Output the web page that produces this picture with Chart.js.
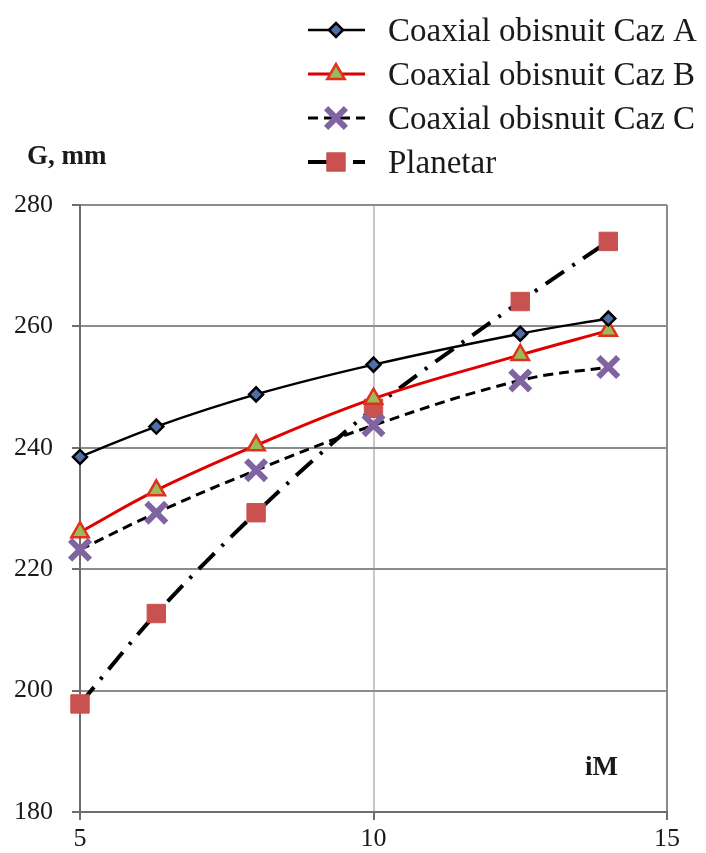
<!DOCTYPE html>
<html>
<head>
<meta charset="utf-8">
<script src="https://cdn.jsdelivr.net/npm/chart.js"></script>
<style>
  html, body { margin: 0; padding: 0; background: #fff; }
  #wrap { width: 706px; height: 853px; }
</style>
</head>
<body>
<div id="wrap"><canvas id="chart"></canvas></div>
<script>
// values
const iM = [5, 6.3, 8, 10, 12.5, 14];
const cazA = [238.5, 243.5, 248.8, 253.7, 258.8, 261.3];
const cazB = [226.1, 233.0, 240.4, 248.1, 255.3, 259.3];
const cazC = [223.2, 229.3, 236.3, 243.7, 251.1, 253.3];
const planetar = [197.8, 212.7, 229.3, 246.5, 264.1, 274.0];
const seriesNames = ['Coaxial obisnuit Caz A', 'Coaxial obisnuit Caz B', 'Coaxial obisnuit Caz C', 'Planetar'];
const xTicks = [5, 10, 15];
const yTicks = [180, 200, 220, 240, 260, 280];
const yTitle = 'G, mm';
const xTitle = 'iM';

const serif = '"Liberation Serif", "Times New Roman", serif';
Chart.defaults.font.family = serif;
Chart.defaults.color = '#1a1a1a';

function pts(ys) {
  return iM.map((x, i) => ({ x: x, y: ys[i] }));
}

// legend + free axis titles drawn on the canvas
const extras = {
  id: 'extras',
  afterDraw(chart) {
    const ctx = chart.ctx;
    ctx.save();
    const rows = [30, 74, 118, 162];
    chart.data.datasets.forEach((ds, i) => {
      const y = rows[i];
      ctx.strokeStyle = ds.borderColor;
      ctx.lineWidth = ds.borderWidth;
      ctx.setLineDash(ds.borderDash || []);
      ctx.beginPath();
      ctx.moveTo(308, y);
      ctx.lineTo(365, y);
      ctx.stroke();
      ctx.setLineDash([]);
      ctx.fillStyle = ds.pointBackgroundColor;
      ctx.strokeStyle = ds.pointBorderColor;
      ctx.lineWidth = ds.pointBorderWidth;
      Chart.helpers.drawPoint(ctx, {
        pointStyle: ds.pointStyle,
        radius: ds.pointRadius,
        rotation: 0,
        borderWidth: ds.pointBorderWidth
      }, 336, y);
      ctx.fillStyle = '#1a1a1a';
      ctx.font = '33px ' + serif;
      ctx.textBaseline = 'middle';
      ctx.textAlign = 'left';
      ctx.fillText(ds.label, 388, y + 2);
    });
    ctx.font = 'bold 27px ' + serif;
    ctx.textBaseline = 'middle';
    ctx.fillText(yTitle, 27, 157);
    ctx.fillText(xTitle, 585, 768);
    ctx.restore();
  }
};

new Chart('chart', {
  type: 'line',
  data: {
    datasets: [
      {
        label: seriesNames[0],
        data: pts(cazA),
        borderColor: '#000000',
        borderWidth: 2.5,
        tension: 0.4,
        clip: false,
        pointStyle: 'rectRot',
        pointRadius: 7,
        pointBackgroundColor: '#4f6fa8',
        pointBorderColor: '#000000',
        pointBorderWidth: 2.5
      },
      {
        label: seriesNames[1],
        data: pts(cazB),
        borderColor: '#e00000',
        borderWidth: 3,
        tension: 0.4,
        clip: false,
        pointStyle: 'triangle',
        pointRadius: 10,
        pointBackgroundColor: '#9bbb59',
        pointBorderColor: '#e0301e',
        pointBorderWidth: 2.5
      },
      {
        label: seriesNames[2],
        data: pts(cazC),
        borderColor: '#000000',
        borderWidth: 3,
        borderDash: [10, 6],
        tension: 0.4,
        clip: false,
        pointStyle: 'crossRot',
        pointRadius: 14,
        pointBackgroundColor: '#8064a2',
        pointBorderColor: '#8064a2',
        pointBorderWidth: 6
      },
      {
        label: seriesNames[3],
        data: pts(planetar),
        borderColor: '#000000',
        borderWidth: 4,
        borderDash: [22, 10, 3, 10],
        tension: 0.3,
        clip: false,
        pointStyle: 'rect',
        pointRadius: 13,
        pointBackgroundColor: '#c9514f',
        pointBorderColor: '#c9514f',
        pointBorderWidth: 1
      }
    ]
  },
  options: {
    responsive: true,
    maintainAspectRatio: false,
    animation: false,
    layout: { padding: { top: 205, right: 39, left: 0, bottom: 0 } },
    plugins: {
      legend: { display: false },
      tooltip: { enabled: false }
    },
    scales: {
      x: {
        type: 'linear',
        min: 5,
        max: 15,
        afterBuildTicks: (s) => { s.ticks = xTicks.map(v => ({ value: v })); },
        afterFit: (s) => { s.height = 41; },
        ticks: { font: { size: 26 }, padding: 4 },
        grid: {
          color: (c) => c.tick.value === 10 ? '#c8c8c8' : (c.tick.value === 15 ? '#8c8c8c' : 'rgba(0,0,0,0)'),
          lineWidth: 2,
          tickColor: '#6e6e6e',
          tickLength: 8
        },
        border: { color: '#6e6e6e', width: 2 }
      },
      y: {
        min: 180,
        max: 280,
        afterBuildTicks: (s) => { s.ticks = yTicks.map(v => ({ value: v })); },
        afterFit: (s) => { s.width = 80; },
        ticks: { font: { size: 26 }, padding: 19 },
        grid: {
          color: '#8c8c8c',
          lineWidth: 2,
          tickColor: '#6e6e6e',
          tickLength: 8
        },
        border: { color: '#6e6e6e', width: 2 }
      }
    }
  },
  plugins: [extras]
});
</script>
</body>
</html>
